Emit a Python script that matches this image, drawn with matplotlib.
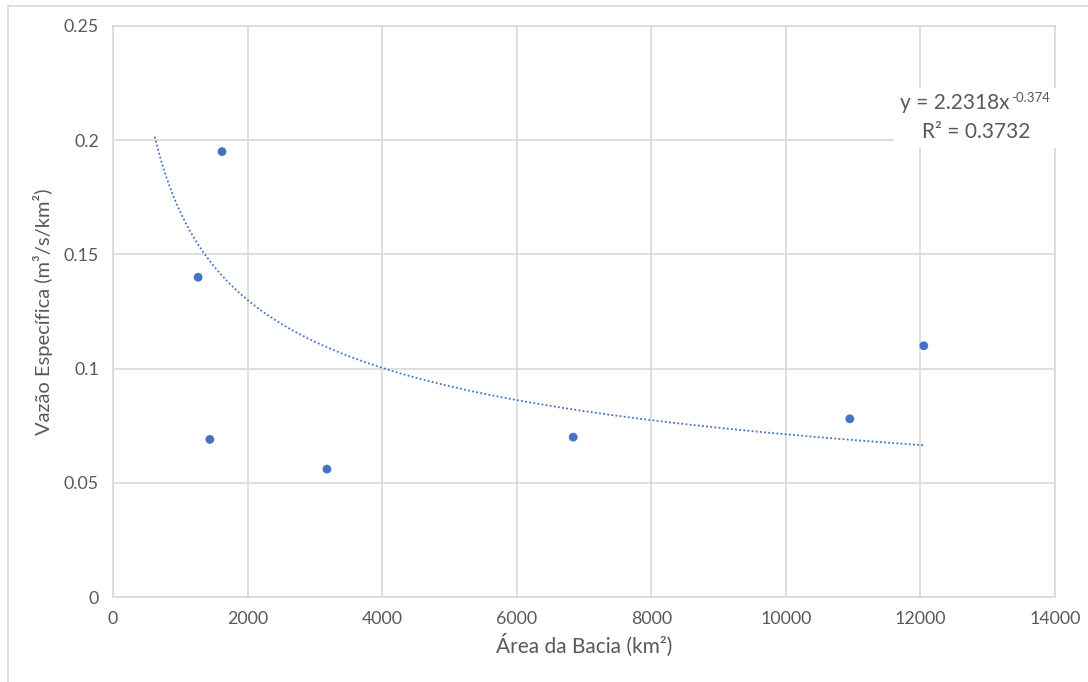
import matplotlib.pyplot as plt
import numpy as np
from matplotlib.lines import Line2D
from matplotlib.patches import Rectangle

plt.rcParams['font.family'] = ['Lato', 'DejaVu Sans']

# bacia data
area = [1620, 1265, 1440, 3180, 6840, 10950, 12050]
vazao = [0.195, 0.140, 0.069, 0.056, 0.070, 0.078, 0.110]

# power trendline fitted in the original sheet
coef_a = 2.2318
coef_b = -0.374
r2 = 0.3732
trend_start = 620
trend_end = 12050

xticks = [0, 2000, 4000, 6000, 8000, 10000, 12000, 14000]
yticks = [0, 0.05, 0.1, 0.15, 0.2, 0.25]
ytick_labels = ['0', '0.05', '0.1', '0.15', '0.2', '0.25']

txt = '#595959'
grid = '#d9d9d9'
blue = '#4472c4'

fig = plt.figure(figsize=(10.88, 6.82), dpi=100)
ax = fig.add_axes([113 / 1088, 85 / 682, 942 / 1088, 571 / 682])

ax.scatter(area, vazao, s=40, color=blue, zorder=3, edgecolors='none')

xt = np.linspace(trend_start, trend_end, 400)
ax.plot(xt, coef_a * xt ** coef_b, color=blue, lw=1.3, linestyle=(0, (1, 1.3)), zorder=2)

ax.set_xlim(0, 14000)
ax.set_ylim(0, 0.25)
ax.set_xticks(xticks)
ax.set_xticklabels([str(v) for v in xticks])
ax.set_yticks(yticks)
ax.set_yticklabels(ytick_labels)
ax.grid(True, color=grid, lw=1.2)
ax.set_axisbelow(True)
for s in ax.spines.values():
    s.set_color(grid)
    s.set_linewidth(1.2)
ax.tick_params(length=0, labelsize=12.8, colors=txt, pad=10)

ax.set_xlabel('Área da Bacia (km²)', fontsize=15, color=txt, labelpad=5)
ax.set_ylabel('Vazão Específica (m³/s/km²)', fontsize=14.5, color=txt, labelpad=8)

# trendline label (white box, like Excel)
ax.add_patch(Rectangle((11610, 0.1968), 2420, 0.0262, facecolor='white',
                       edgecolor='none', zorder=4, clip_on=False))
t1 = ax.text(11700, 0.2135, 'y = %.4fx' % coef_a, fontsize=15, color=txt,
             ha='left', va='baseline', zorder=5)
ax.text(12030, 0.2010, 'R² = %.4f' % r2, fontsize=15, color=txt,
        ha='left', va='baseline', zorder=5)

# superscript exponent placed right after the main text
fig.canvas.draw()
bb = t1.get_window_extent()
inv = ax.transData.inverted()
sx, sy = inv.transform((bb.x1 + 1, bb.y1 + 1))
ax.text(sx, sy, '%.3f' % coef_b, fontsize=9.5, color=txt,
        ha='left', va='top', zorder=5)

# outer chart border
fig.add_artist(Line2D([8 / 1088, 8 / 1088], [0, 1 - 6 / 682], color=grid, lw=1.2))
fig.add_artist(Line2D([8 / 1088, 1], [1 - 6 / 682, 1 - 6 / 682], color=grid, lw=1.2))

fig.savefig('out.png', dpi=100, facecolor='white')
